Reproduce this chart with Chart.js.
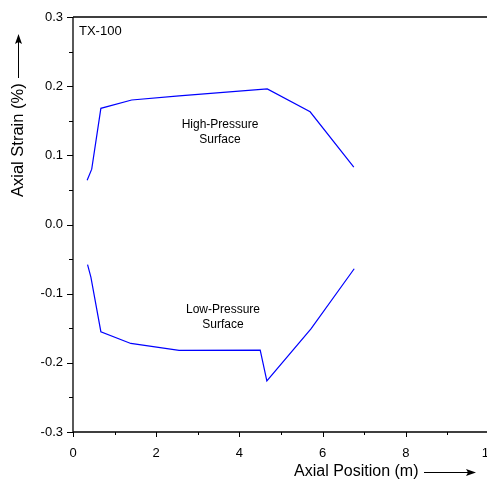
<!DOCTYPE html>
<html>
<head>
<meta charset="utf-8">
<script src="https://cdn.jsdelivr.net/npm/chart.js@4"></script>
<style>
html,body{margin:0;padding:0;overflow:hidden;background:#fff;}
#wrap{width:500px;height:481px;position:relative;}
</style>
</head>
<body>
<div id="wrap"><canvas id="c" width="500" height="481"></canvas></div>
<script>
const hpX = [0.34, 0.45, 0.67, 1.41, 2.55, 4.67, 5.70, 6.75];
const hpY = [0.064, 0.080, 0.168, 0.180, 0.186, 0.196, 0.163, 0.083];
const lpX = [0.35, 0.43, 0.67, 1.39, 2.55, 4.50, 4.66, 5.72, 6.76];
const lpY = [-0.058, -0.076, -0.155, -0.172, -0.182, -0.1815, -0.226, -0.151, -0.064];
const xTicks = [0, 2, 4, 6, 8, 10];
const yTicks = [-0.3, -0.2, -0.1, 0.0, 0.1, 0.2, 0.3];
const xTitle = 'Axial Position (m)';
const yTitle = 'Axial Strain (%)';
const panelLabel = 'TX-100';
const hpLabel = ['High-Pressure', 'Surface'];
const lpLabel = ['Low-Pressure', 'Surface'];

const FONT = '"Liberation Sans", Arial, sans-serif';
const toPts = (xs, ys) => xs.map((x, i) => ({x: x, y: ys[i]}));

const deco = {
  id: 'deco',
  afterDraw(chart) {
    const ctx = chart.ctx;
    const xs = chart.scales.x, ys = chart.scales.y;
    const a = chart.chartArea;
    ctx.save();
    ctx.strokeStyle = '#000';
    ctx.lineWidth = 1.3;
    ctx.beginPath();
    ctx.moveTo(a.left, a.top); ctx.lineTo(a.left, a.bottom); ctx.lineTo(a.right, a.bottom);
    ctx.moveTo(a.left, a.top); ctx.lineTo(a.right, a.top);
    ctx.stroke();
    ctx.lineWidth = 1;
    ctx.beginPath();
    for (let v = -0.3; v <= 0.3001; v += 0.05) {
      const p = Math.round(ys.getPixelForValue(v)) + 0.5;
      const major = Math.abs(Math.round(v * 10) - v * 10) < 1e-6;
      ctx.moveTo(a.left - (major ? 6 : 4), p); ctx.lineTo(a.left, p);
    }
    for (let v = 0; v <= 10; v += 1) {
      const p = Math.round(xs.getPixelForValue(v)) + 0.5;
      const major = v % 2 === 0;
      ctx.moveTo(p, a.bottom); ctx.lineTo(p, a.bottom + (major ? 5 : 3));
    }
    ctx.stroke();
    ctx.fillStyle = '#000';
    ctx.font = '13px ' + FONT;
    ctx.textAlign = 'left'; ctx.textBaseline = 'middle';
    ctx.fillText(panelLabel, 79, 31);
    ctx.font = '12px ' + FONT;
    ctx.textAlign = 'center';
    ctx.fillText(hpLabel[0], 220, 125);
    ctx.fillText(hpLabel[1], 220, 140);
    ctx.fillText(lpLabel[0], 223, 310);
    ctx.fillText(lpLabel[1], 223, 325);
    ctx.font = '16px ' + FONT;
    ctx.textAlign = 'left';
    ctx.fillText(xTitle, 294, 472);
    ctx.lineWidth = 1;
    ctx.beginPath(); ctx.moveTo(424, 472.5); ctx.lineTo(470, 472.5); ctx.stroke();
    ctx.beginPath(); ctx.moveTo(476, 472.5); ctx.lineTo(466, 469); ctx.lineTo(468, 472.5); ctx.lineTo(466, 476); ctx.closePath(); ctx.fill();
    ctx.save();
    ctx.translate(18, 197);
    ctx.rotate(-Math.PI / 2);
    ctx.font = '16.5px ' + FONT;
    ctx.textAlign = 'left';
    ctx.fillText(yTitle, 0, 0);
    ctx.restore();
    ctx.beginPath(); ctx.moveTo(18.5, 78); ctx.lineTo(18.5, 40); ctx.stroke();
    ctx.beginPath(); ctx.moveTo(18.5, 34); ctx.lineTo(15, 44); ctx.lineTo(18.5, 42); ctx.lineTo(22, 44); ctx.closePath(); ctx.fill();
    ctx.restore();
  }
};

new Chart(document.getElementById('c'), {
  type: 'scatter',
  data: {
    datasets: [
      {data: toPts(hpX, hpY), showLine: true, borderColor: '#0000ff', borderWidth: 1.2, pointRadius: 0, fill: false, tension: 0},
      {data: toPts(lpX, lpY), showLine: true, borderColor: '#0000ff', borderWidth: 1.2, pointRadius: 0, fill: false, tension: 0}
    ]
  },
  options: {
    responsive: false,
    animation: false,
    layout: {padding: {left: 0, top: 17, right: 11, bottom: 0}},
    plugins: {legend: {display: false}, tooltip: {enabled: false}},
    scales: {
      x: {
        type: 'linear', min: 0, max: 10,
        afterFit: s => { s.height = 49; s.paddingLeft = 0; s.paddingRight = 0; },
        grid: {display: false, drawTicks: false},
        border: {display: false},
        afterBuildTicks: s => { s.ticks = xTicks.map(v => ({value: v})); },
        ticks: {color: '#000', font: {family: FONT, size: 13}, padding: 14, maxRotation: 0, autoSkip: false,
                callback: v => String(v)}
      },
      y: {
        type: 'linear', min: -0.3, max: 0.3,
        afterFit: s => { s.width = 73; s.paddingTop = 0; s.paddingBottom = 0; },
        grid: {display: false, drawTicks: false},
        border: {display: false},
        afterBuildTicks: s => { s.ticks = yTicks.map(v => ({value: v})); },
        ticks: {color: '#000', font: {family: FONT, size: 13}, padding: 10, autoSkip: false,
                callback: v => Number(v).toFixed(1)}
      }
    }
  },
  plugins: [deco]
});
</script>
</body>
</html>
